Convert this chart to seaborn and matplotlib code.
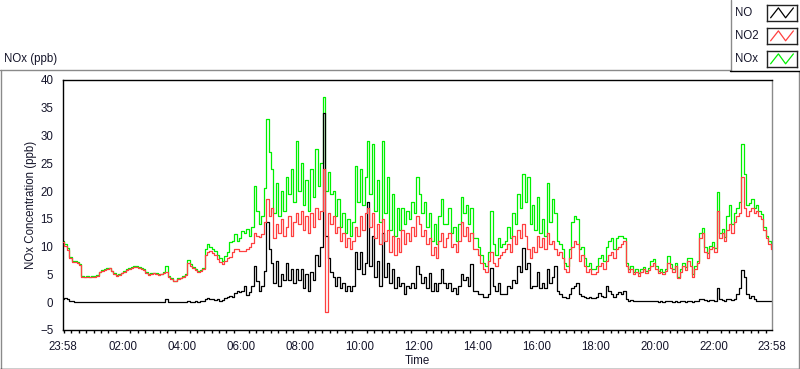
import numpy as np
import pandas as pd
import matplotlib
matplotlib.use("Agg")
import matplotlib.pyplot as plt
import matplotlib.dates as mdates
import seaborn as sns
from matplotlib.lines import Line2D
from matplotlib.patches import Rectangle

# ---------------- data (5-minute samples from 23:58 to 23:58 next day) ----------------
start_time = "2015-03-01 23:58"
sample_step = "5min"

no2 = [
    10.8, 10.2, 9.4, 7.9, 7.3, 7.2, 7.1, 6.7, 4.6, 4.5, 4.6, 4.5,
    4.6, 4.6, 4.7, 5.4, 5.7, 5.8, 6.0, 6.1, 5.6, 5.1, 4.8, 4.9,
    5.2, 5.5, 5.8, 6.0, 6.2, 6.4, 6.4, 6.2, 6.0, 5.8, 5.3, 4.9,
    5.1, 5.2, 5.0, 4.9, 5.0, 5.2, 5.4, 4.6, 4.2, 3.8, 3.8, 4.2,
    4.3, 4.6, 4.9, 7.0, 6.5, 6.2, 5.8, 5.4, 5.6, 6.0, 8.5, 9.1,
    9.3, 8.9, 8.5, 7.8, 7.3, 6.9, 7.5, 8.0, 8.2, 9.0, 9.5, 9.6,
    9.3, 9.2, 9.3, 9.6, 9.9, 10.6, 12.4, 12.0, 11.8, 12.2, 14.5, 18.5,
    15.5, 17.0, 11.5, 14.0, 12.5, 15.0, 12.0, 13.5, 15.5, 12.0, 14.5, 16.0,
    14.0, 16.5, 13.0, 15.5, 12.5, 16.0, 13.5, 17.0, 15.0, 16.5, 24.0, -1.8,
    16.0, 14.0, 15.5, 12.5, 13.5, 11.0, 12.5, 10.0, 11.5, 9.5, 11.0, 13.5,
    12.0, 15.5, 13.0, 16.0, 17.0, 13.5, 16.0, 11.5, 14.0, 10.5, 15.0, 11.0,
    13.0, 9.0, 12.0, 8.5, 11.5, 9.0, 13.0, 10.5, 12.5, 11.0, 13.5, 12.0,
    15.5, 14.0, 12.0, 13.0, 10.5, 11.5, 8.5, 10.0, 8.0, 11.0, 12.5, 10.0,
    11.5, 12.5, 10.0, 10.5, 9.0, 11.0, 14.5, 12.0, 13.5, 11.0, 12.5, 9.5,
    9.5, 8.5, 7.0, 6.0, 5.5, 7.5, 9.0, 7.0, 6.5, 8.0, 8.5, 9.0,
    9.5, 10.5, 9.0, 12.0, 10.5, 13.0, 11.5, 14.0, 12.0, 9.5, 8.0, 10.0,
    9.0, 12.0, 10.0, 11.5, 9.5, 12.5, 10.5, 11.0, 9.5, 8.5, 9.0, 8.0,
    6.0, 5.5, 8.0, 10.0, 11.0, 10.5, 7.5, 8.5, 6.5, 5.5, 6.0, 5.0,
    5.0, 5.5, 6.5, 7.0, 6.0, 7.5, 8.5, 9.0, 8.0, 9.5, 10.0, 10.5,
    11.0, 6.5, 5.5, 6.0, 5.0, 5.5, 4.8, 5.5, 6.0, 5.2, 5.8, 6.5,
    7.0, 6.0, 5.2, 5.5, 5.0, 5.6, 7.0, 6.2, 5.5, 6.5, 4.3, 5.5,
    6.5, 5.8, 7.5, 6.5, 4.5, 6.0, 7.0, 11.5, 12.5, 9.0, 8.0, 9.5,
    10.0, 9.0, 16.5, 11.5, 12.5, 11.0, 13.0, 14.0, 12.5, 14.5, 15.5, 16.0,
    22.5, 17.0, 15.5, 16.5, 17.0, 16.0, 16.5, 15.5, 15.0, 13.0, 11.5, 10.5, 9.6,
]

nox = [
    11.0, 10.5, 9.7, 8.1, 7.5, 7.4, 7.2, 6.9, 4.7, 4.6, 4.8, 4.6,
    4.8, 4.7, 4.9, 5.5, 5.8, 6.0, 6.1, 6.2, 5.7, 5.2, 4.9, 5.0,
    5.3, 5.6, 5.9, 6.2, 6.4, 6.6, 6.5, 6.3, 6.1, 5.9, 5.4, 5.0,
    5.3, 5.3, 5.2, 5.0, 5.1, 5.4, 6.6, 4.7, 4.3, 3.9, 3.9, 4.3,
    4.4, 4.7, 5.0, 7.6, 6.8, 6.4, 6.0, 5.6, 5.8, 6.2, 9.5, 10.4,
    10.0, 9.6, 9.3, 8.5, 8.0, 7.5, 8.4, 9.0, 10.8, 11.0, 12.3, 11.0,
    11.5, 12.9, 12.4, 13.2, 12.0, 13.5, 21.0, 16.5, 14.0, 15.5, 20.5, 33.0,
    27.0, 24.0, 16.0, 21.5, 15.5, 20.0, 16.5, 22.5, 19.5, 24.0, 18.0, 29.0,
    20.0, 25.0, 17.5, 22.0, 16.5, 24.0, 19.0, 27.5, 21.0, 25.0, 37.0, 20.0,
    23.5, 19.5, 20.0, 15.5, 18.5, 13.5, 16.0, 12.5, 15.0, 12.0, 14.5, 24.5,
    18.0, 24.0, 17.5, 22.5, 29.0, 19.5, 28.5, 16.5, 22.0, 14.5, 29.0, 16.0,
    22.5, 13.0, 19.5, 12.0, 17.0, 13.0, 17.0, 14.0, 16.5, 15.0, 18.0, 16.0,
    22.5, 19.5, 16.0, 18.0, 13.5, 16.0, 11.0, 14.0, 10.5, 15.5, 18.5, 14.0,
    14.0, 17.0, 12.5, 13.5, 11.0, 14.0, 19.0, 16.0, 17.5, 14.0, 17.0, 11.5,
    11.5, 10.0, 8.5, 7.0, 6.5, 9.0, 16.5, 10.5, 8.5, 11.5, 10.0, 10.5,
    11.0, 13.5, 11.5, 16.0, 14.0, 19.5, 17.0, 23.0, 18.0, 22.5, 14.0, 17.5,
    13.0, 19.0, 12.5, 15.0, 12.0, 21.5, 14.5, 18.5, 16.0, 11.0, 10.5, 9.5,
    7.0, 6.5, 9.5, 14.5, 15.5, 15.0, 9.5, 10.0, 8.0, 6.5, 7.0, 6.0,
    6.0, 6.5, 8.0, 8.5, 7.5, 10.0, 11.0, 11.5, 9.5, 11.5, 12.0, 12.0,
    11.5, 7.0, 6.0, 6.5, 5.5, 6.0, 5.2, 6.0, 6.4, 5.6, 6.2, 7.5,
    7.8, 6.5, 5.6, 5.9, 5.4, 6.0, 8.3, 6.8, 6.0, 7.0, 4.6, 6.0,
    7.0, 6.3, 8.0, 8.0, 5.0, 6.5, 7.5, 12.5, 13.3, 10.0, 8.8, 10.2,
    10.8, 9.8, 19.8, 12.5, 13.2, 11.8, 15.5, 17.5, 14.0, 16.0, 17.0, 18.0,
    28.5, 23.0, 17.5, 17.8, 18.5, 17.0, 17.5, 16.5, 15.8, 13.5, 12.0, 11.0, 10.0,
]

no = [
    0.6, 0.8, 0.5, 0.3, 0.2, 0.1, 0.1, 0.1, 0.0, 0.1, 0.0, 0.1,
    0.0, 0.1, 0.1, 0.0, 0.1, 0.0, 0.0, 0.1, 0.0, 0.1, 0.0, 0.0,
    0.0, 0.1, 0.0, 0.0, 0.1, 0.0, 0.1, 0.0, 0.0, 0.1, 0.0, 0.0,
    0.1, 0.0, 0.1, 0.1, 0.0, 0.1, 0.5, 0.1, 0.0, 0.1, 0.1, 0.0,
    0.1, 0.1, 0.1, 0.2, 0.1, 0.1, 0.2, 0.1, 0.2, 0.3, 0.6, 0.8,
    0.6, 0.5, 0.4, 0.5, 0.3, 0.4, 0.8, 0.9, 1.1, 1.0, 1.6, 2.1,
    1.9, 2.0, 2.9, 1.3, 1.8, 3.0, 6.6, 3.9, 2.0, 3.0, 5.7, 14.4,
    9.5, 7.0, 3.5, 7.5, 3.0, 5.0, 4.0, 7.0, 4.0, 6.0, 3.5, 6.0,
    4.0, 6.0, 2.5, 5.0, 2.0, 5.5, 4.0, 8.5, 6.5, 10.0, 34.0, 12.0,
    8.0, 5.5, 4.5, 3.0, 4.5, 2.5, 3.5, 2.0, 3.0, 2.0, 3.0, 9.0,
    6.0, 9.0, 5.0, 7.0, 18.0, 6.5, 12.0, 4.5, 7.5, 3.0, 12.5, 4.5,
    7.0, 3.5, 6.0, 2.5, 4.5, 3.0, 3.5, 1.5, 3.0, 2.5, 3.5, 2.5,
    6.5, 5.0, 3.5, 4.5, 2.5, 5.3, 2.0, 3.5, 2.0, 3.5, 6.0, 3.5,
    2.5, 3.5, 2.0, 2.5, 1.5, 3.0, 5.0, 4.0, 4.5, 3.0, 6.9, 2.0,
    2.0, 1.5, 1.5, 1.0, 1.0, 1.5, 6.2, 3.0, 2.0, 3.5, 1.5, 1.5,
    1.5, 3.0, 2.5, 4.0, 3.5, 6.5, 5.5, 9.8, 6.0, 7.0, 2.5, 3.0,
    3.0, 5.5, 2.5, 3.5, 2.5, 6.0, 3.5, 4.5, 6.6, 2.0, 1.5, 1.0,
    1.0, 0.8, 1.5, 2.5, 3.0, 3.5, 1.5, 1.2, 1.0, 0.8, 0.9, 0.8,
    0.8, 0.9, 1.7, 1.2, 1.0, 3.0, 2.0, 1.5, 1.0, 1.5, 1.8, 1.5,
    2.0, 0.5, 0.3, 0.4, 0.3, 0.2, 0.2, 0.3, 0.3, 0.2, 0.2, 0.3,
    0.3, 0.2, 0.1, 0.2, 0.1, 0.2, 0.3, 0.2, 0.1, 0.2, 0.1, 0.2,
    0.2, 0.1, 0.3, 0.2, 0.1, 0.2, 0.3, 0.5, 0.6, 0.4, 0.3, 0.4,
    0.4, 0.3, 2.5, 0.6, 0.4, 0.3, 0.5, 0.6, 0.4, 0.5, 1.5, 2.5,
    5.8, 4.5, 1.5, 0.8, 1.2, 0.5, 0.3, 0.2, 0.3, 0.2, 0.2, 0.2, 0.2,
]

series_names = ["NO", "NO2", "NOx"]
series_colors = ["#000000", "#ff4040", "#00f000"]
y_ticks = [-5, 0, 5, 10, 15, 20, 25, 30, 35, 40]
major_hours = [2, 4, 6, 8, 10, 12, 14, 16, 18, 20, 22]

# ---------------- frame ----------------
times = pd.date_range(start_time, periods=len(no), freq=sample_step)
n = len(times)
df = pd.DataFrame({
    "Time": np.concatenate([times, times, times]),
    "value": no + no2 + nox,
    "series": [series_names[0]] * n + [series_names[1]] * n + [series_names[2]] * n,
})
palette = dict(zip(series_names, series_colors))

sns.set_theme(style="white")
plt.rcParams["font.family"] = ["Liberation Sans", "DejaVu Sans"]
txt_color = "#15152a"

W, H = 800, 369
fig = plt.figure(figsize=(W / 100, H / 100), dpi=100)
fig.patch.set_facecolor("white")

def fx(px):
    return px / W

def fy(py):
    return 1 - py / H

ax = fig.add_axes([fx(63), fy(330), (772 - 63) / W, 250 / H])
ax.set_facecolor("white")

z = {"NOx": 1, "NO": 2, "NO2": 3}
for name in ["NOx", "NO", "NO2"]:
    sns.lineplot(data=df[df["series"] == name], x="Time", y="value",
                 color=palette[name], lw=0.9, drawstyle="steps-mid",
                 estimator=None, sort=False, legend=False, ax=ax, zorder=z[name])

ax.set_xlim(times[0], times[-1])
ax.set_ylim(-5, 40)
ax.set_yticks(y_ticks)
day2 = times[0].normalize() + pd.Timedelta(days=1)
xt = [times[0]] + [day2 + pd.Timedelta(hours=h) for h in major_hours] + [times[-1]]
ax.set_xticks(xt)
ax.xaxis.set_major_formatter(mdates.DateFormatter("%H:%M"))
ax.xaxis.set_minor_locator(mdates.MinuteLocator(byminute=[0, 15, 30, 45]))
ax.set_xlabel("")
ax.set_ylabel("")
ax.grid(False)

ax.tick_params(axis="both", which="major", direction="out", length=5, width=1,
               color="black", labelsize=8.3, labelcolor=txt_color, pad=2)
ax.tick_params(axis="x", which="minor", direction="out", length=2.5, width=1,
               color="black", bottom=True)
ax.tick_params(axis="y", which="minor", left=False)
ax.tick_params(axis="x", which="major", pad=3)

for side in ["left", "bottom", "top"]:
    ax.spines[side].set_color("black")
    ax.spines[side].set_linewidth(1)
ax.spines["right"].set_color("#8a8a8a")
ax.spines["right"].set_linewidth(1)

# labels
fig.text(fx(31), fy(205), "NOx Concentration (ppb)", rotation=90,
         ha="center", va="center", fontsize=8.3, color=txt_color)
fig.text(fx(417.5), fy(361), "Time", ha="center", va="center",
         fontsize=8.3, color=txt_color)
fig.text(fx(4), fy(59), "NOx (ppb)", ha="left", va="center",
         fontsize=8.3, color=txt_color)

# outer panel frame
def fline(x0, y0, x1, y1, color, lw=1.0):
    fig.add_artist(Line2D([fx(x0), fx(x1)], [fy(y0), fy(y1)],
                          color=color, lw=lw, transform=fig.transFigure))

fline(0, 69.5, 730.5, 69.5, "#8a8a8a")
fline(0.5, 69.5, 0.5, 369, "#8a8a8a")
fline(0, 368.5, 800, 368.5, "#000000")
fline(798.5, 71, 798.5, 369, "#8a8a8a")
fline(730.5, 0, 730.5, 70.5, "#8a8a8a")
fline(730, 71, 800, 71, "#000000")

# legend
leg_rows = [13, 36, 59]
for name, color, yc in zip(series_names, series_colors, leg_rows):
    fig.text(fx(735), fy(yc), name, ha="left", va="center",
             fontsize=8.3, color=txt_color)
    sw = fig.add_axes([fx(767), fy(yc + 8), 30 / W, 16 / H])
    sw.set_xlim(0, 1)
    sw.set_ylim(0, 1)
    sw.set_xticks([])
    sw.set_yticks([])
    for s in sw.spines.values():
        s.set_color("#222222")
        s.set_linewidth(1)
    sw.plot([0.12, 0.38, 0.62, 0.88], [0.2, 0.82, 0.2, 0.82], color=color, lw=0.9)

fig.savefig("out.png", dpi=100)
